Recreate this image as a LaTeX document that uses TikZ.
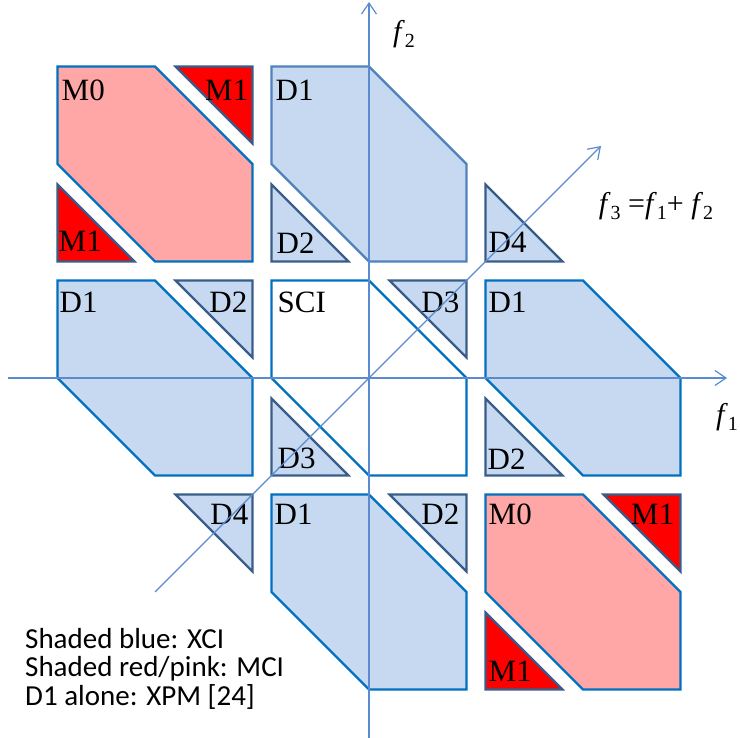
\documentclass[tikz,border=0pt]{standalone}
\usepackage{fontspec}
\setmainfont{Liberation Serif}
\newfontfamily\legendfont{Carlito}
\usetikzlibrary{arrows.meta}
\definecolor{bfill}{HTML}{C6D9F0}
\definecolor{pfill}{HTML}{FFA6A6}
\definecolor{rfill}{HTML}{FF0000}
\definecolor{bedge}{HTML}{0070C0}
\definecolor{bedgel}{HTML}{4F81BD}
\definecolor{tedge}{HTML}{385D8A}
\definecolor{axcol}{HTML}{5A8BD0}
\newcommand\hexshape[1]{\draw[#1] (-97.5,-97.5) -- (0,-97.5) -- (97.5,0) -- (97.5,97.5) -- (0,97.5) -- (-97.5,0) -- cycle;}
\newcommand\tritr[1]{\draw[#1] (20.5,-97.5) -- (97.5,-97.5) -- (97.5,-20.5) -- cycle;}
\newcommand\tribl[1]{\draw[#1] (-97.5,20.5) -- (-97.5,97.5) -- (-20.5,97.5) -- cycle;}
\newcommand\subx[1]{{\fontsize{20}{22}\selectfont\raisebox{-6pt}{#1}}}
\tikzset{
  blk/.style={line width=2.2pt, draw=bedge, line join=miter},
  tri/.style={line width=2.2pt, draw=tedge, line join=miter},
  lbl/.style={inner sep=0pt, font=\fontsize{31}{33}\selectfont},
  tl/.style={lbl, anchor=base west},
  trl/.style={lbl, anchor=base east},
  axis/.style={draw=axcol, line width=1.2pt, -{Straight Barb[length=11pt,width=15pt]}},
  axlbl/.style={inner sep=0pt, font=\fontsize{30}{32}\selectfont},
  leg/.style={inner sep=0pt, anchor=base west, font=\legendfont\fontsize{29}{31}\selectfont},
}
\begin{document}
\begin{tikzpicture}[x=1pt,y=-1pt]
\useasboundingbox (0,0) rectangle (740,738);
% row 1
\begin{scope}[shift={(155,164)}]
  \hexshape{blk, fill=pfill}
  \tritr{tri, fill=rfill}
  \tribl{tri, fill=rfill}
  \node[tl] (m0a) at (-93.5,-63.5) {M0};
  \node[trl] (m1a) at (93.5,-63.5) {M1};
  \node[tl] (m1b) at (-96.5,87.5) {M1};
\end{scope}
\begin{scope}[shift={(369,164)}]
  \hexshape{blk, draw=bedgel, fill=bfill}
  \tribl{tri, fill=bfill}
  \node[tl] (d1a) at (-93.5,-63.5) {D1};
  \node[tl] (d2a) at (-92.5,89.5) {D2};
\end{scope}
\begin{scope}[shift={(583,164)}]
  \tribl{tri, fill=bfill}
  \node[tl] (d4a) at (-94.5,88.5) {D4};
\end{scope}
% row 2
\begin{scope}[shift={(155,378)}]
  \hexshape{blk, fill=bfill}
  \tritr{tri, fill=bfill}
  \node[tl] (d1b) at (-95.5,-65.5) {D1};
  \node[trl] (d2b) at (92.5,-65.5) {D2};
\end{scope}
\begin{scope}[shift={(369,378)}]
  \hexshape{blk, fill=white}
  \tritr{tri, fill=bfill}
  \tribl{tri, fill=bfill}
  \node[tl] (sci) at (-91.5,-65.5) {SCI};
  \node[trl] (d3a) at (90.5,-65.5) {D3};
  \node[tl] (d3b) at (-91.5,90.5) {D3};
\end{scope}
\begin{scope}[shift={(583,378)}]
  \hexshape{blk, fill=bfill}
  \tribl{tri, fill=bfill}
  \node[tl] (d1c) at (-94.5,-65.5) {D1};
  \node[tl] (d2c) at (-95.5,91.5) {D2};
\end{scope}
% row 3
\begin{scope}[shift={(155,592)}]
  \tritr{tri, fill=bfill}
  \node[trl] (d4b) at (93.5,-67.5) {D4};
\end{scope}
\begin{scope}[shift={(369,592)}]
  \hexshape{blk, fill=bfill}
  \tritr{tri, fill=bfill}
  \node[tl] (d1d) at (-94.5,-67.5) {D1};
  \node[trl] (d2d) at (90.5,-67.5) {D2};
\end{scope}
\begin{scope}[shift={(583,592)}]
  \hexshape{blk, fill=pfill}
  \tritr{tri, fill=rfill}
  \tribl{tri, fill=rfill}
  \node[tl] (m0b) at (-94.5,-67.5) {M0};
  \node[trl] (m1c) at (91.5,-67.5) {M1};
  \node[tl] (m1d) at (-94.5,89.5) {M1};
\end{scope}
% axes
\coordinate (x0) at (8,378);
\coordinate (x1) at (727,378);
\coordinate (y0) at (369,738);
\coordinate (y1) at (369,2);
\coordinate (z0) at (155,592);
\coordinate (z1) at (601,146);
\draw[axis] (x0) -- (x1);
\draw[axis] (y0) -- (y1);
\draw[axis] (z0) -- (z1);
% axis labels
\node[axlbl] (f2lbl) at (404,34) {\textit{f}\subx{2}};
\node[axlbl] (f1lbl) at (727,417) {\textit{f}\subx{1}};
\node[axlbl] (f3lbl) at (656,206) {\textit{f}\subx{3} =\textit{f}\subx{1}+ \textit{f}\subx{2}};
% legend
\node[leg] (leg1) at (25,648) {Shaded blue: XCI};
\node[leg] (leg2) at (25,676.5) {Shaded red/pink: MCI};
\node[leg] (leg3) at (25,705) {D1 alone: XPM [24]};
\end{tikzpicture}
\end{document}
